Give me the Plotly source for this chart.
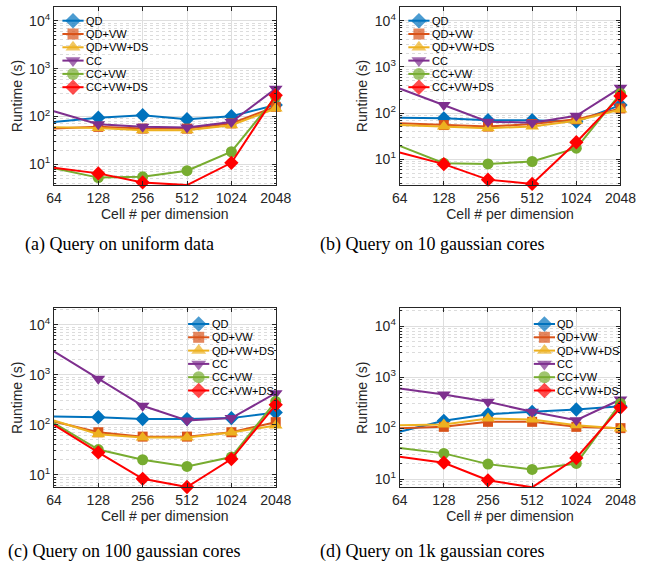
import math
import plotly.graph_objects as go

W, H = 649, 568

cells = [64, 128, 256, 512, 1024, 2048]
tick_labels = ["64", "128", "256", "512", "1024", "2048"]
ytick_vals = [10, 100, 1000, 10000]
ytick_labels = ["10<sup>1</sup>", "10<sup>2</sup>", "10<sup>3</sup>", "10<sup>4</sup>"]
series_names = ["QD", "QD+VW", "QD+VW+DS", "CC", "CC+VW", "CC+VW+DS"]

# (a) uniform data
qd_a = [77, 95, 107, 88, 102, 175]
qdvw_a = [56, 61, 56, 56, 72, 160]
qdvwds_a = [60, 58, 52, 52, 66, 148]
cc_a = [129, 69, 61, 59, 77, 383]
ccvw_a = [8.3, 5.3, 5.5, 7.4, 18.4, 257]
ccvwds_a = [8.5, 6.5, 4.2, 3.7, 10.8, 278]

# (b) 10 gaussian cores
qd_b = [79, 77, 70, 70, 65, 149]
qdvw_b = [60, 55, 51, 58, 73, 126]
qdvwds_b = [55, 51, 47, 51, 68, 120]
cc_b = [340, 149, 65, 62, 87, 352]
ccvw_b = [19.4, 8.2, 7.9, 8.9, 17.3, 265]
ccvwds_b = [13.9, 7.8, 3.6, 2.9, 23.3, 233]

# (c) 100 gaussian cores
qd_c = [147, 142, 130, 130, 136, 176]
qdvw_c = [116, 71, 58, 58, 71, 113]
qdvwds_c = [122, 65, 56, 56, 70, 97]
cc_c = [2930, 832, 240, 122, 136, 430]
ccvw_c = [108, 32, 20, 14.7, 22.6, 293]
ccvwds_c = [100, 28, 8.3, 5.7, 20.6, 251]

# (d) 1k gaussian cores
qd_d = [85, 139, 188, 209, 232, 270]
qdvw_d = [100, 106, 133, 133, 106, 100]
qdvwds_d = [114, 118, 155, 148, 114, 98]
cc_d = [600, 457, 328, 209, 143, 365]
ccvw_d = [41, 32, 19.7, 15.5, 20.3, 305]
ccvwds_d = [27.4, 21, 9.5, 6.9, 26, 254]

captions = ["(a) Query on uniform data", "(b) Query on 10 gaussian cores",
            "(c) Query on 100 gaussian cores", "(d) Query on 1k gaussian cores"]

panels = [
    [qd_a, qdvw_a, qdvwds_a, cc_a, ccvw_a, ccvwds_a],
    [qd_b, qdvw_b, qdvwds_b, cc_b, ccvw_b, ccvwds_b],
    [qd_c, qdvw_c, qdvwds_c, cc_c, ccvw_c, ccvwds_c],
    [qd_d, qdvw_d, qdvwds_d, cc_d, ccvw_d, ccvwds_d],
]

colors = ["#0072BD", "#D95319", "#EDB120", "#7E2F8E", "#77AC30", "#FF0000"]
symbols = ["diamond", "square", "triangle-up", "triangle-down", "circle", "diamond"]
msizes = [11, 10, 12, 12, 11, 11]

# plot areas in pixels: (left, right, top, bottom)
boxes = [(47.7, 278, 7, 185), (406.7, 636, 7, 185),
         (47.7, 278, 308.3, 487.3), (406.7, 636, 308.3, 487.3)]
yranges = [(0.57, 4.29), (0.44, 4.30), (0.75, 4.33), (0.84, 4.35)]
# legend: marker centre x, first row y (pixels)
legend_pos = [(67.5, 20.7), (426.7, 20.7), (198, 324), (557, 324)]
row_gap = 13.3
caption_pos = [(116, 244), (440, 244), (120, 551), (440, 551)]

AXC = "#262626"
FONT = "Liberation Sans, Arial, sans-serif"

fig = go.Figure()
layout = dict(width=W, height=H, margin=dict(l=0, r=0, t=0, b=0),
              paper_bgcolor="white", plot_bgcolor="rgba(0,0,0,0)",
              showlegend=False, annotations=[])

for i, (data, box, yr) in enumerate(zip(panels, boxes, yranges)):
    n = i + 1
    xa, ya = ("x" if n == 1 else f"x{n}"), ("y" if n == 1 else f"y{n}")
    for k, vals in enumerate(data):
        fig.add_trace(go.Scatter(
            x=cells, y=vals, xaxis=xa, yaxis=ya, mode="lines+markers",
            name=series_names[k], cliponaxis=False,
            line=dict(color=colors[k], width=2),
            marker=dict(symbol=symbols[k], size=msizes[k], color=colors[k],
                        line=dict(width=0))))
    l, r, t, b = box
    xkey = "xaxis" if n == 1 else f"xaxis{n}"
    ykey = "yaxis" if n == 1 else f"yaxis{n}"
    layout[xkey] = dict(
        type="log", domain=[l / W, r / W], anchor=ya,
        range=[math.log10(cells[0]), math.log10(cells[-1])],
        tickmode="array", tickvals=cells, ticktext=tick_labels,
        showline=True, mirror="ticks", linecolor=AXC, linewidth=1,
        ticks="inside", ticklen=4, tickcolor=AXC,
        showgrid=True, gridcolor="#DEDEDE", gridwidth=1, zeroline=False,
        tickfont=dict(family=FONT, size=14, color=AXC),
        title=dict(text="Cell # per dimension", standoff=4,
                   font=dict(family=FONT, size=14, color=AXC)))
    layout[ykey] = dict(
        type="log", domain=[1 - b / H, 1 - t / H], anchor=xa,
        range=list(yr), tickmode="array", tickvals=ytick_vals,
        ticktext=ytick_labels,
        showline=True, mirror="ticks", linecolor=AXC, linewidth=1,
        ticks="inside", ticklen=4, tickcolor=AXC,
        showgrid=True, gridcolor="#DEDEDE", gridwidth=1, zeroline=False,
        minor=dict(showgrid=True, gridcolor="#DCDCDC", griddash="dot",
                   ticks="inside", ticklen=2, tickcolor=AXC, dtick="D1"),
        tickfont=dict(family=FONT, size=14, color=AXC),
        title=dict(text="Runtime (s)", standoff=3,
                   font=dict(family=FONT, size=14, color=AXC)))

# overlay axes in pixel space for legends
layout["xaxis5"] = dict(domain=[0, 1], range=[0, W], anchor="y5", visible=False,
                        fixedrange=True)
layout["yaxis5"] = dict(domain=[0, 1], range=[H, 0], anchor="x5", visible=False,
                        fixedrange=True)

for i, (mx, y0) in enumerate(legend_pos):
    for k, name in enumerate(series_names):
        ry = y0 + k * row_gap
        fig.add_trace(go.Scatter(
            x=[mx - 11, mx, mx + 11], y=[ry, ry, ry], xaxis="x5", yaxis="y5",
            mode="lines+markers", hoverinfo="skip", cliponaxis=False,
            line=dict(color=colors[k], width=2),
            marker=dict(symbol=symbols[k], size=[0, msizes[k] + 1, 0],
                        color=colors[k], line=dict(width=0))))
        layout["annotations"].append(dict(
            x=(mx + 11.5) / W, y=1 - ry / H, xref="paper", yref="paper",
            text=name, showarrow=False, xanchor="left", yanchor="middle",
            font=dict(family=FONT, size=11, color="black")))

for cap, (cx, cy) in zip(captions, caption_pos):
    layout["annotations"].append(dict(
        x=cx / W, y=1 - cy / H, xref="paper", yref="paper", text=cap,
        showarrow=False, xanchor="center", yanchor="middle",
        font=dict(family="Liberation Serif, Times New Roman, serif", size=18,
                  color="black")))

fig.update_layout(**layout)
fig.write_html("out.html")
